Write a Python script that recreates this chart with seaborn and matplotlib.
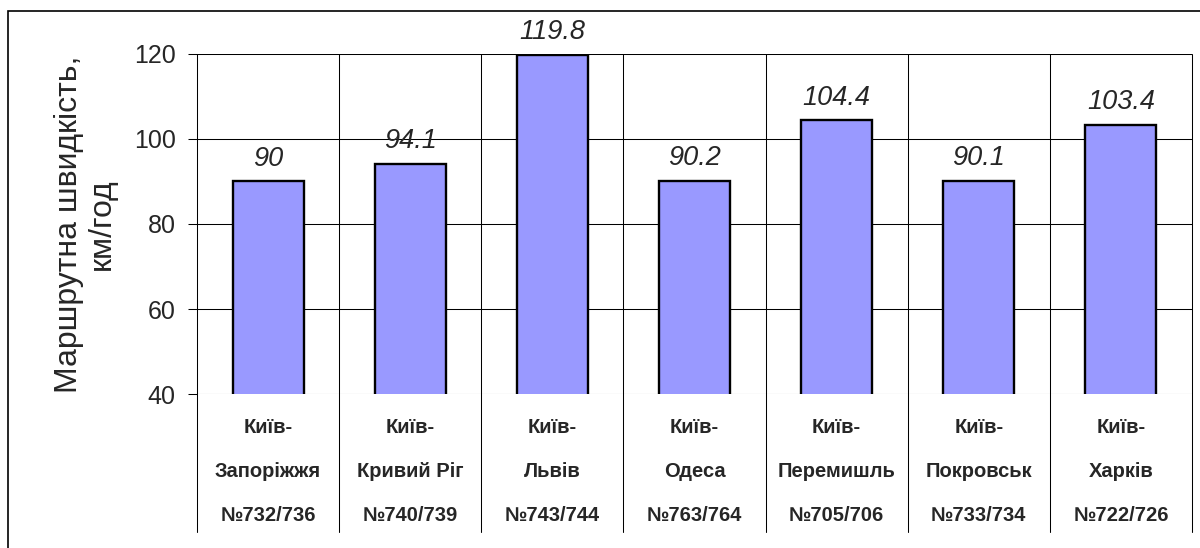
import matplotlib
matplotlib.use("Agg")
import matplotlib.pyplot as plt
import matplotlib.patches as mpatches
import seaborn as sns
import pandas as pd

# data
routes = ["Київ-\nЗапоріжжя\n№732/736", "Київ-\nКривий Ріг\n№740/739",
          "Київ-\nЛьвів\n№743/744", "Київ-\nОдеса\n№763/764",
          "Київ-\nПеремишль\n№705/706", "Київ-\nПокровськ\n№733/734",
          "Київ-\nХарків\n№722/726"]
speeds = [90, 94.1, 119.8, 90.2, 104.4, 90.1, 103.4]
yticks = [40, 60, 80, 100, 120]
ylabel = "Маршрутна швидкість,\nкм/год"

sns.set_style("white")
plt.rcParams["font.family"] = ["Liberation Sans", "DejaVu Sans"]

df = pd.DataFrame({"route": routes, "speed": speeds})

fig = plt.figure(figsize=(12, 5.48), dpi=100)
ax = fig.add_axes([0.1642, 0.281, 0.9933 - 0.1642, 0.9015 - 0.281])

sns.barplot(data=df, x="route", y="speed", color="#9999FF", saturation=1,
            width=0.5, edgecolor="black", linewidth=1.7, ax=ax, zorder=3)

ax.set_ylim(40, 120)
ax.set_xlim(-0.5, len(routes) - 0.5)
ax.set_yticks(yticks)
ax.set_yticklabels([str(t) for t in yticks], fontsize=18)
ax.tick_params(axis="y", direction="out", length=6.5, width=0.75, color="black", pad=9, left=True)
ax.tick_params(axis="x", length=0, pad=17.5)
for lab in ax.get_xticklabels():
    lab.set_fontsize(14.5)
    lab.set_fontweight("bold")
    lab.set_linespacing(2.65)
    lab.set_va("top")

for sp in ax.spines.values():
    sp.set_visible(False)

# horizontal gridlines
for t in yticks:
    ax.axhline(t, color="black", lw=0.75, zorder=1)

# vertical category separators, extended into the label table
n = len(routes)
for i in range(n + 1):
    ax.plot([i - 0.5, i - 0.5], [-0.405, 1], transform=ax.get_xaxis_transform(),
            color="black", lw=0.75, zorder=1, clip_on=False)

# value labels
for i, v in enumerate(speeds):
    ax.annotate(f"{v:g}", (i, v), xytext=(0, 7), textcoords="offset points",
                ha="center", va="bottom", fontsize=19.5, fontstyle="italic",
                annotation_clip=False)

ax.set_xlabel("")
ax.set_ylabel(ylabel, fontsize=23, linespacing=1.15, labelpad=12)

# outer chart frame
fig.add_artist(mpatches.Rectangle((8 / 1200, -0.2), 1.5, 0.2 + 1 - 11 / 548,
                                  transform=fig.transFigure, fill=False,
                                  edgecolor="black", lw=1.2))

fig.savefig("out.png", dpi=100)
